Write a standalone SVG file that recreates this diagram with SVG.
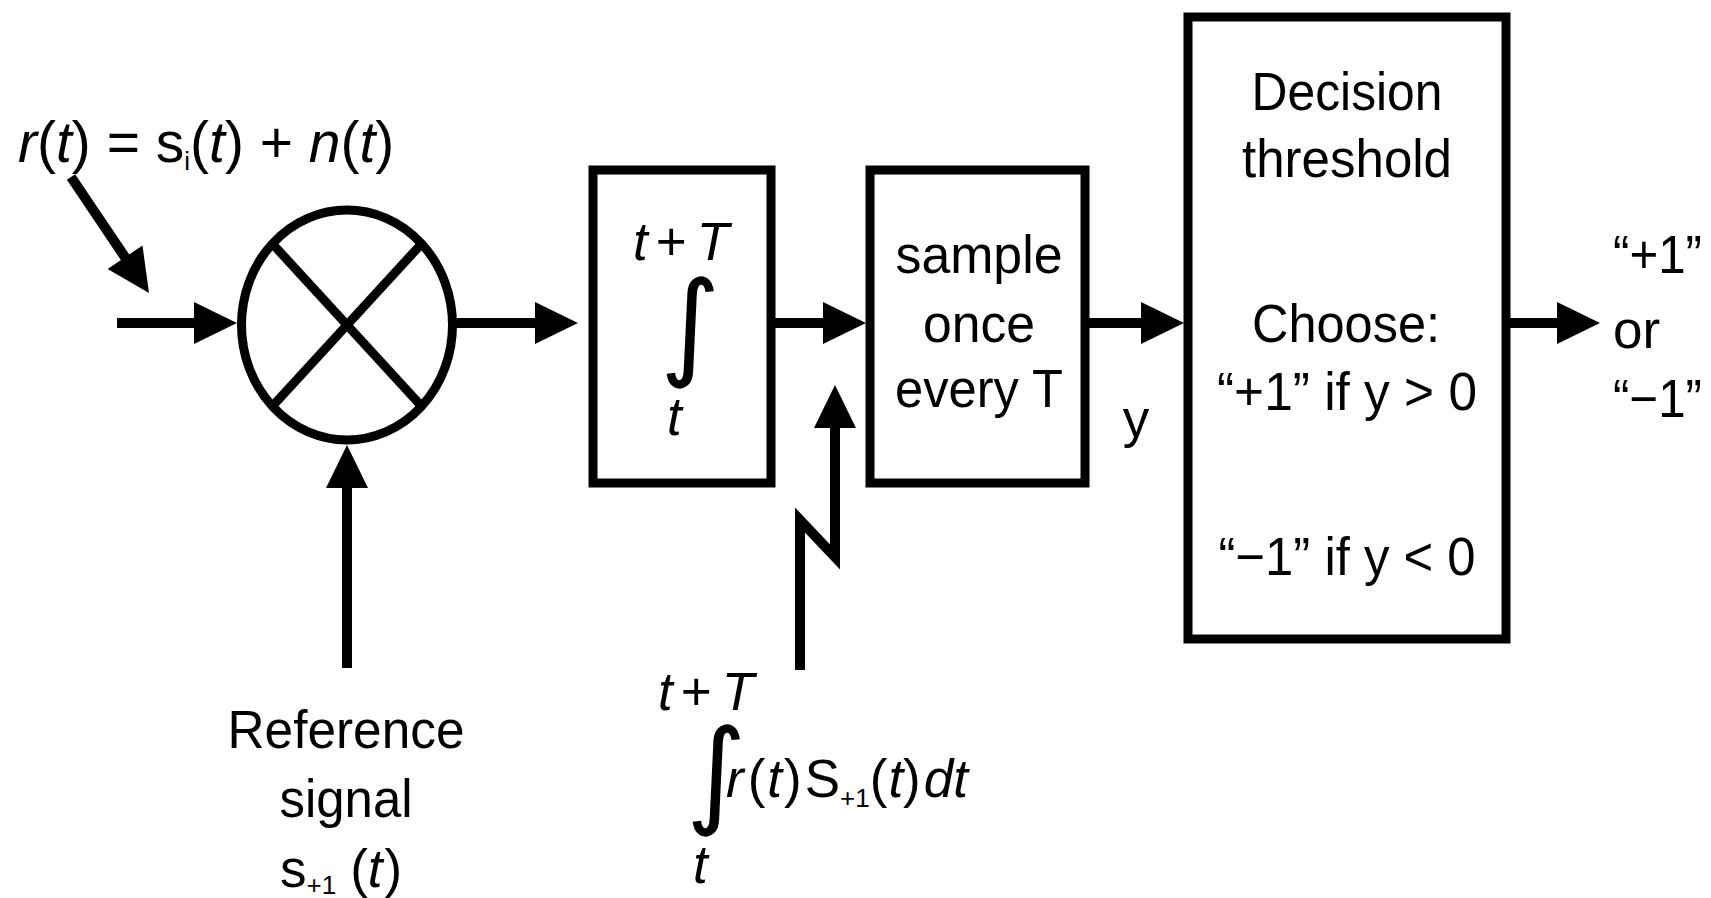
<svg xmlns="http://www.w3.org/2000/svg" width="1711" height="898" viewBox="0 0 1711 898">
  <style>
    .box { fill: #fff; stroke: #000; stroke-width: 9; }
    .ring { fill: #fff; stroke: #000; stroke-width: 9; }
    .cross { stroke: #000; stroke-width: 9; }
    .wire { fill: none; stroke: #000; stroke-width: 10; stroke-linejoin: miter; stroke-miterlimit: 10; }
    .lbl { font-family: "Liberation Sans", Arial, sans-serif; font-size: 53px; fill: #000; }
    .mid { text-anchor: middle; }
    .math { font-family: "Liberation Sans", Arial, sans-serif; font-size: 57px; fill: #000; }
    .it { font-style: italic; }
    .up { font-style: normal; }
    .sub { font-size: 26px; }
    .integral { font-family: "DejaVu Sans", sans-serif; font-size: 116px; fill: #000; }
  </style>
  <defs>
    <marker id="arrowhead" markerUnits="userSpaceOnUse" markerWidth="43" markerHeight="42"
            refX="1" refY="21" orient="auto" overflow="visible">
      <path d="M0,0 L43,21 L0,42 Z" fill="#000"/>
    </marker>
  </defs>

  <rect width="1711" height="898" fill="#fff"/>

  <!-- signal flow -->
  <g id="connectors">
    <line class="wire" x1="71" y1="177" x2="125.6" y2="258.1" marker-end="url(#arrowhead)"/>
    <line class="wire" x1="117" y1="323" x2="195" y2="323" marker-end="url(#arrowhead)"/>
    <line class="wire" x1="347" y1="668" x2="347" y2="487" marker-end="url(#arrowhead)"/>
    <line class="wire" x1="456" y1="323" x2="536" y2="323" marker-end="url(#arrowhead)"/>
    <line class="wire" x1="775" y1="323" x2="824" y2="323" marker-end="url(#arrowhead)"/>
    <path class="wire" d="M800,670 V520 L835,557 V427" marker-end="url(#arrowhead)"/>
    <line class="wire" x1="1089" y1="323" x2="1142" y2="323" marker-end="url(#arrowhead)"/>
    <line class="wire" x1="1510" y1="323" x2="1558" y2="323" marker-end="url(#arrowhead)"/>
  </g>

  <!-- multiplier -->
  <g id="mixer">
    <ellipse class="ring" cx="347" cy="325" rx="105.5" ry="115"/>
    <line class="cross" x1="272.4" y1="243.7" x2="421.6" y2="406.3"/>
    <line class="cross" x1="421.6" y1="243.7" x2="272.4" y2="406.3"/>
  </g>

  <!-- integrate-and-dump -->
  <g id="integrator">
    <rect class="box" x="593" y="170" width="178" height="313"/>
    <text class="lbl it" x="633" y="260">t<tspan class="up" dx="8">+</tspan><tspan dx="10">T</tspan></text>
    <text class="integral" x="660" y="364">∫</text>
    <text class="lbl it" x="667" y="435">t</text>
  </g>

  <!-- sampler -->
  <g id="sampler">
    <rect class="box" x="870" y="170" width="215" height="313"/>
    <text class="lbl mid" x="979" y="273" textLength="167" lengthAdjust="spacingAndGlyphs">sample</text>
    <text class="lbl mid" x="979" y="342" textLength="112" lengthAdjust="spacingAndGlyphs">once</text>
    <text class="lbl mid" x="979" y="407" textLength="168" lengthAdjust="spacingAndGlyphs">every T</text>
  </g>

  <!-- slicer -->
  <g id="decision">
    <rect class="box" x="1188" y="17" width="318" height="622"/>
    <text class="lbl mid" x="1347" y="110" textLength="191" lengthAdjust="spacingAndGlyphs">Decision</text>
    <text class="lbl mid" x="1347" y="177" textLength="210" lengthAdjust="spacingAndGlyphs">threshold</text>
    <text class="lbl mid" x="1346" y="342" textLength="188" lengthAdjust="spacingAndGlyphs">Choose:</text>
    <text class="lbl mid" x="1347" y="410" textLength="260" lengthAdjust="spacingAndGlyphs">“+1” if y &gt; 0</text>
    <text class="lbl mid" x="1347" y="575" textLength="257" lengthAdjust="spacingAndGlyphs">“−1” if y &lt; 0</text>
  </g>

  <!-- received signal -->
  <g id="input-label">
    <text class="math" x="18" y="162"><tspan class="it">r</tspan>(<tspan class="it">t</tspan>) = s<tspan class="sub" dy="8">i</tspan><tspan dy="-8">(</tspan><tspan class="it">t</tspan>) + <tspan class="it">n</tspan>(<tspan class="it">t</tspan>)</text>
  </g>

  <!-- local reference -->
  <g id="reference-label">
    <text class="lbl mid" x="346" y="748" textLength="237" lengthAdjust="spacingAndGlyphs">Reference</text>
    <text class="lbl mid" x="346" y="817" textLength="133" lengthAdjust="spacingAndGlyphs">signal</text>
    <text class="lbl" x="280" y="887">s<tspan class="sub" dy="7">+1</tspan><tspan dx="14" dy="-7">(</tspan><tspan class="it">t</tspan><tspan dx="2">)</tspan></text>
  </g>

  <!-- correlator output -->
  <g id="sample-integral-label">
    <text class="lbl it" x="658" y="710">t<tspan class="up" dx="8">+</tspan><tspan dx="10">T</tspan></text>
    <text class="integral" x="686" y="812">∫</text>
    <text class="lbl" x="726" y="797"><tspan class="it">r</tspan><tspan dx="4">(</tspan><tspan class="it" dx="2">t</tspan><tspan dx="2">)</tspan><tspan dx="3">S</tspan><tspan class="sub" dy="10">+1</tspan><tspan dy="-10">(</tspan><tspan class="it" dx="1">t</tspan>)<tspan class="it" dx="3">dt</tspan></text>
    <text class="lbl it" x="693" y="883">t</text>
  </g>

  <g id="y-label">
    <text class="lbl mid" x="1136" y="437">y</text>
  </g>

  <g id="output-label">
    <text class="lbl" x="1613" y="273" textLength="89" lengthAdjust="spacingAndGlyphs">“+1”</text>
    <text class="lbl" x="1613" y="348">or</text>
    <text class="lbl" x="1613" y="417" textLength="89" lengthAdjust="spacingAndGlyphs">“−1”</text>
  </g>
</svg>
